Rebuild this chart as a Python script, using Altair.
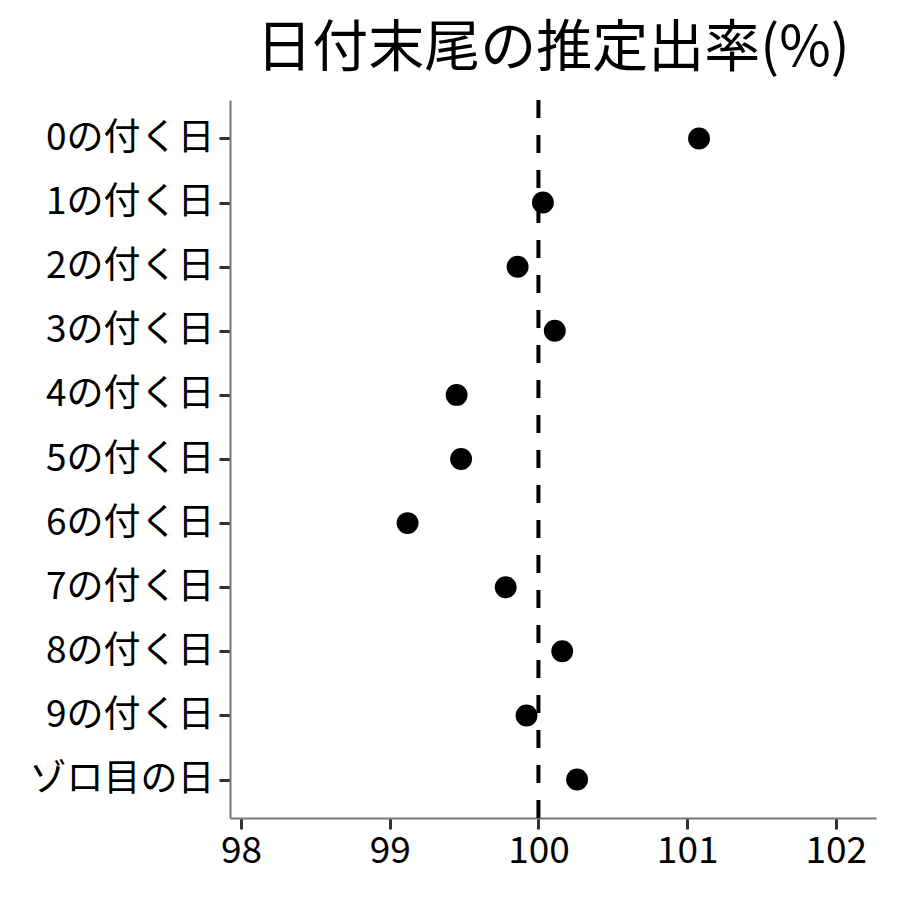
import altair as alt
import pandas as pd

labels = ["0の付く日", "1の付く日", "2の付く日", "3の付く日", "4の付く日",
          "5の付く日", "6の付く日", "7の付く日", "8の付く日", "9の付く日", "ゾロ目の日"]
values = [101.08, 100.03, 99.86, 100.11, 99.45, 99.48, 99.12, 99.78, 100.16, 99.92, 100.26]
x_ticks = [98, 99, 100, 101, 102]
ref_value = [100]

df = pd.DataFrame({"label": labels, "value": values})
ref = pd.DataFrame({"v": ref_value})

FONT = "Noto Sans CJK JP"
xscale = alt.Scale(domain=[97.926, 102.27], nice=False, zero=False)

points = alt.Chart(df).mark_circle(size=480, color="black", opacity=1).encode(
    x=alt.X("value:Q", scale=xscale,
            axis=alt.Axis(values=x_ticks, format="d", title=None)),
    y=alt.Y("label:N", sort=labels, scale=alt.Scale(padding=0.6),
            axis=alt.Axis(title=None, labelLimit=400)),
)

rule = alt.Chart(ref).mark_rule(color="black", strokeWidth=4, strokeDash=[18, 17]).encode(
    x=alt.X("v:Q", scale=xscale),
)

chart = (rule + points).properties(
    width=646,
    height=718,
    title=alt.TitleParams("日付末尾の推定出率(%)", fontSize=56, font=FONT,
                          fontWeight="normal", color="black", offset=20,
                          anchor="middle"),
    autosize=alt.AutoSizeParams(type="none"),
    padding={"left": 222, "top": 92, "right": 16, "bottom": 74},
).configure_view(stroke=None).configure_axis(
    grid=False,
    domainColor="#777777",
    domainWidth=2,
    tickColor="#333333",
    tickWidth=3,
    tickSize=11,
    labelFont=FONT,
    labelFontSize=37,
    labelColor="black",
    labelPadding=5,
    labelLimit=400,
).configure_axisX(labelPadding=4)

chart.save("out.html", embed_options={"renderer": "svg", "actions": False})
